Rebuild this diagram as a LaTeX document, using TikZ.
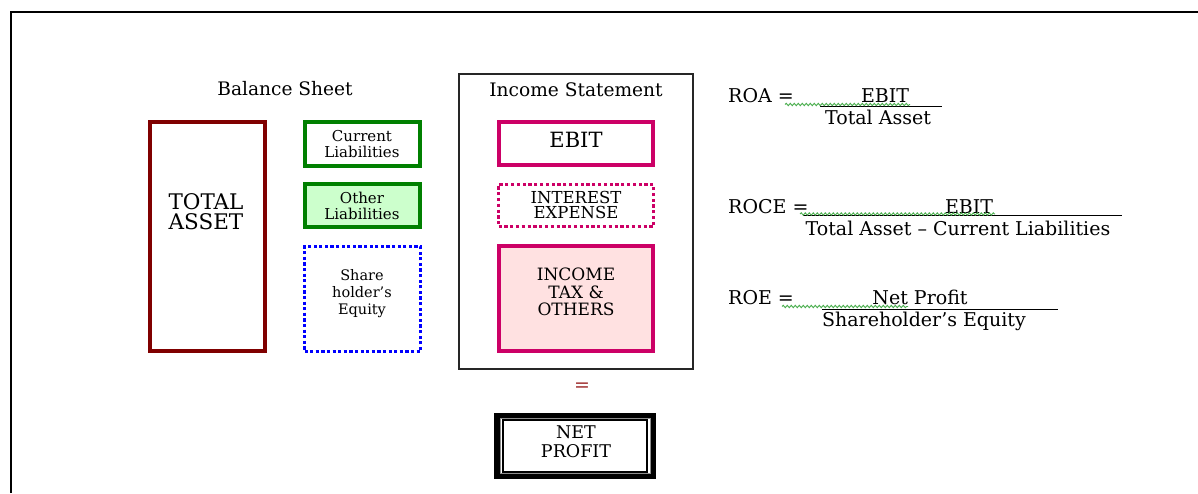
\documentclass[tikz,border=0pt]{standalone}
\usepackage{fontspec}
\setmainfont{DejaVu Serif}
\usetikzlibrary{decorations.pathmorphing}
\definecolor{maroonc}{HTML}{800000}
\definecolor{dgreen}{HTML}{008000}
\definecolor{lgreen}{HTML}{CCFFCC}
\definecolor{magc}{HTML}{CC0066}
\definecolor{lpink}{HTML}{FFE1E1}
\definecolor{eqred}{HTML}{A03030}
\definecolor{squigc}{HTML}{4CAF50}
\newcommand\fsz[2]{\fontsize{#1}{#2}\selectfont}
\begin{document}
\begin{tikzpicture}[x=1pt,y=-1pt,
  lbl/.style={align=center,inner sep=0pt,text=black},
  ftxt/.style={inner sep=0pt,text=black,font=\fsz{19}{22}},
  boxbase/.style={rectangle,inner sep=0pt},
  assetbox/.style={boxbase,draw=maroonc,line width=4.3pt,fill=white},
  liabbox/.style={boxbase,draw=dgreen,line width=3.8pt,fill=white},
  otherbox/.style={boxbase,draw=dgreen,line width=3.8pt,fill=lgreen},
  equitybox/.style={boxbase,draw=blue,line width=3.6pt,dash pattern=on 3.2pt off 2.4pt},
  incbox/.style={boxbase,draw=black!85,line width=1.2pt},
  ebitbox/.style={boxbase,draw=magc,line width=4.2pt},
  intbox/.style={boxbase,draw=magc,line width=3.6pt,dash pattern=on 3.2pt off 2.6pt},
  taxbox/.style={boxbase,draw=magc,line width=4.2pt,fill=lpink},
  fracline/.style={draw=black,line width=1pt},
  squig/.style={draw=squigc,line width=0.9pt,decorate,decoration={snake,segment length=4pt,amplitude=1.2pt}}
]
\useasboundingbox (0,0) rectangle (1198,493);
\fill[white] (0,0) rectangle (1198,493);
% outer frame
\coordinate (frbl) at (11,493);
\coordinate (frtl) at (11,12);
\coordinate (frtr) at (1198,12);
\draw[line width=2pt,black] (frbl) -- (frtl) -- (frtr);

% Balance sheet
\node[lbl,font=\fsz{18.6}{22}] (bstitle) at (285,89) {Balance Sheet};
\node[assetbox,minimum width=115pt,minimum height=229pt] (asset) at (207.5,236.5) {};
\node[lbl,font=\fsz{21.5}{20}] (assetlbl) at (206,212) {TOTAL\\ASSET};
\node[liabbox,minimum width=115.5pt,minimum height=44.5pt] (curliab) at (362.5,144) {};
\node[lbl,font=\fsz{15}{15.5}] (curlbl) at (362,144) {Current\\Liabilities};
\node[otherbox,minimum width=115.5pt,minimum height=43.5pt] (othliab) at (362.5,205.5) {};
\node[lbl,font=\fsz{15}{15.5}] (othlbl) at (362,206) {Other\\Liabilities};
\node[equitybox,minimum width=116pt,minimum height=105pt] (equity) at (362.5,299) {};
\node[lbl,font=\fsz{14.5}{17}] (eqlbl) at (362,294) {Share\\holder’s\\Equity};

% Income statement
\node[incbox,minimum width=234pt,minimum height=295pt] (income) at (576,221.5) {};
\node[lbl,font=\fsz{18.6}{22}] (istitle) at (576,90) {Income Statement};
\node[ebitbox,minimum width=154pt,minimum height=43pt] (ebit) at (576,143.5) {};
\node[lbl,font=\fsz{21}{22}] (ebitlbl) at (576,140) {EBIT};
\node[intbox,minimum width=155pt,minimum height=42pt] (interest) at (576,205.5) {};
\node[lbl,font=\fsz{16.5}{15.5}] (intlbl) at (576,205) {INTEREST\\EXPENSE};
\node[taxbox,minimum width=154pt,minimum height=105pt] (tax) at (576,298.5) {};
\node[lbl,font=\fsz{17}{17.5}] (taxlbl) at (576,292) {INCOME\\TAX \&\\OTHERS};
\node[lbl,text=eqred,font=\fsz{19}{22}] (equals) at (582,387) {=};
\node[boxbase,draw=black,line width=6pt,minimum width=156pt,minimum height=60pt] (netprofit) at (575,446) {};
\node[boxbase,draw=black!45,line width=0.8pt,minimum width=150pt,minimum height=55pt] (npgray) at (575,446) {};
\node[boxbase,draw=black,line width=1.2pt,minimum width=144pt,minimum height=52pt] (npinner) at (575,446) {};
\node[lbl,font=\fsz{17.5}{19}] (nplbl) at (576,442) {NET\\PROFIT};

% ROA
\node[ftxt,anchor=base west] (roa) at (728,102.5) {ROA =};
\node[ftxt,anchor=base] (roanum) at (885,102.5) {EBIT};
\node[ftxt,anchor=base] (roaden) at (878,124) {Total Asset};
\coordinate (roaL) at (820,106.5);
\coordinate (roaR) at (942,106.5);
\draw[fracline] (roaL) -- (roaR);
\coordinate (roaS1) at (785,104.5);
\coordinate (roaS2) at (910,104.5);
\draw[squig] (roaS1) -- (roaS2);

% ROCE
\node[ftxt,anchor=base west] (roce) at (728,213) {ROCE =};
\node[ftxt,anchor=base] (rocenum) at (969,213) {EBIT};
\node[ftxt,anchor=base] (roceden) at (958,235) {Total Asset -- Current Liabilities};
\coordinate (roceL) at (803,215.5);
\coordinate (roceR) at (1122,215.5);
\draw[fracline] (roceL) -- (roceR);
\coordinate (roceS1) at (800,214);
\coordinate (roceS2) at (995,214);
\draw[squig] (roceS1) -- (roceS2);

% ROE
\node[ftxt,anchor=base west] (roe) at (728,304) {ROE =};
\node[ftxt,anchor=base] (roenum) at (920,304) {Net Profit};
\node[ftxt,anchor=base] (roeden) at (924,326) {Shareholder’s Equity};
\coordinate (roeL) at (822,309.5);
\coordinate (roeR) at (1058,309.5);
\draw[fracline] (roeL) -- (roeR);
\coordinate (roeS1) at (782,306.5);
\coordinate (roeS2) at (908,306.5);
\draw[squig] (roeS1) -- (roeS2);
\end{tikzpicture}
\end{document}
